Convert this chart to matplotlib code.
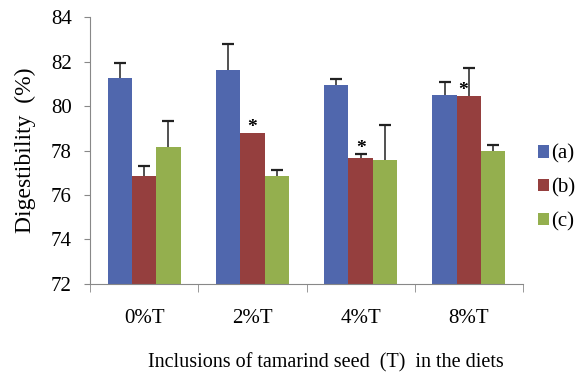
import numpy as np
import matplotlib.pyplot as plt

plt.rcParams['font.family'] = 'Liberation Serif'

groups = ['0%T', '2%T', '4%T', '8%T']
series = ['(a)', '(b)', '(c)']
vals_a = [81.27, 81.63, 80.94, 80.51]
vals_b = [76.85, 78.77, 77.66, 80.45]
vals_c = [78.17, 76.85, 77.57, 77.99]
err_a = [0.65, 1.16, 0.27, 0.58]
err_b = [0.44, 0.0, 0.18, 1.27]
err_c = [1.17, 0.26, 1.59, 0.26]
stars_b = [False, True, True, True]
colors = ['#5067AD', '#953F3E', '#94AF4E']

fig = plt.figure(figsize=(5.79, 3.78), dpi=100)
ax = fig.add_axes([0.1554, 0.2487, 0.748, 0.7063])

x = np.arange(len(groups))
w = 0.225
for i, (v, e) in enumerate(zip([vals_a, vals_b, vals_c], [err_a, err_b, err_c])):
    pos = x + (i - 1) * w
    v = np.array(v)
    e = np.array(e)
    ax.bar(pos, v - 72, w, bottom=72, color=colors[i], label=series[i])
    has = e > 0
    # upper-only error bars, cap only at the top
    ax.vlines(pos[has], v[has], v[has] + e[has], color='#222222', lw=1.1)
    ax.plot(pos[has], v[has] + e[has], ls='none', marker='_', ms=8, mew=1.6,
            color='#222222')

for k, s in enumerate(stars_b):
    if s:
        dx = -0.05 if k == 3 else 0
        top = vals_b[k] + (err_b[k] if k != 3 else 0)
        ax.text(x[k] + dx, top - 0.12, '*', ha='center', va='bottom', fontsize=14,
                fontweight='bold')

ax.set_ylim(72, 84)
ax.set_yticks(range(72, 85, 2))
ax.set_xlim(-0.5, 3.5)
ax.set_xticks(x)
ax.set_xticklabels(groups, fontsize=15)
ax.set_xticks(np.arange(-0.5, 4, 1), minor=True)
ax.tick_params(axis='x', which='major', length=0, pad=18)
ax.tick_params(axis='x', which='minor', length=6, color='#888888')
ax.tick_params(axis='y', labelsize=15, length=4, color='#888888', pad=9)
for sp in ['top', 'right']:
    ax.spines[sp].set_visible(False)
for sp in ['left', 'bottom']:
    ax.spines[sp].set_color('#888888')

ax.set_ylabel('Digestibility  (%)', fontsize=17, labelpad=11)
fig.text(0.562, 0.04, 'Inclusions of tamarind seed  (T)  in the diets', ha='center',
         va='center', fontsize=14.5)

ax.legend(loc='center left', bbox_to_anchor=(1.034, 0.36), frameon=False, fontsize=15,
          handlelength=0.55, handleheight=0.55, handletextpad=0.1, labelspacing=0.7,
          borderpad=0, borderaxespad=0)

fig.savefig('out.png', dpi=100)
